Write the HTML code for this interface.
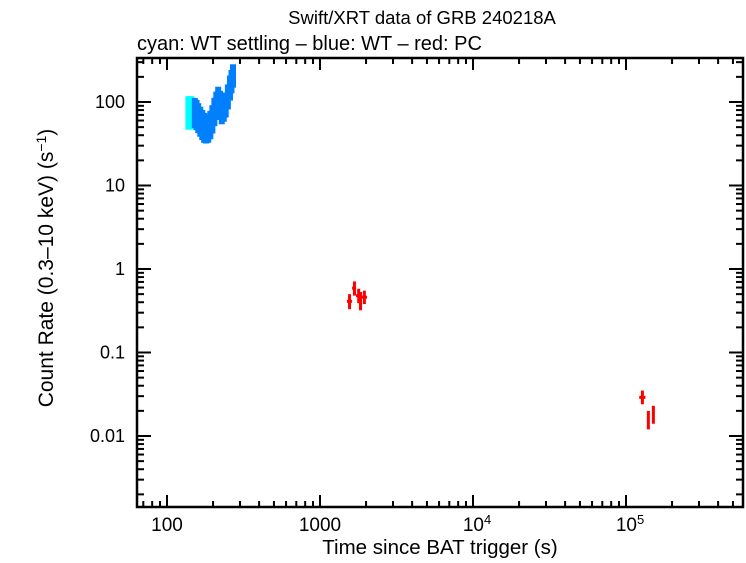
<!DOCTYPE html>
<html><head><meta charset="utf-8"><style>
body{margin:0;background:#fff}
svg text{font-family:"Liberation Sans",sans-serif;fill:#000}
</style></head><body>
<svg id="c" width="746" height="558">
<text x="422" y="24" font-size="18.5" text-anchor="middle">Swift/XRT data of GRB 240218A</text>
<text x="137" y="50" font-size="20">cyan: WT settling – blue: WT – red: PC</text>
<text x="440" y="554" font-size="20.5" text-anchor="middle">Time since BAT trigger (s)</text>
<text transform="translate(53,268) rotate(-90)" font-size="21" text-anchor="middle">Count Rate (0.3–10 keV) (s<tspan dy="-7" font-size="14">−1</tspan><tspan dy="7">)</tspan></text>
<g id="axes"></g><g id="marks"></g>
</svg>
<script>
const xTicks=[2,3,4,5];
const xTickLabels=["100","1000","10","10"];
const xTickSup=["","","4","5"];
const yTicks=[2,1,0,-1,-2];
const yTickLabels=["100","10","1","0.1","0.01"];
const cyanT=[138,141,144];
const cyanR=[74,74,74];
const cyanErr=[0.2,0.2,0.2];
const blueT=[152,156,160,165,170,175,180,186,192,198,204,210,216,222,228,235,242,250,258,264,270];
const blueR=[74,70,64,58,53,49,46,48,53,62,76,90,103,92,80,84,92,115,147,175,205];
const blueErr=[0.18,0.18,0.18,0.18,0.18,0.18,0.16,0.17,0.17,0.17,0.17,0.17,0.17,0.17,0.17,0.16,0.15,0.15,0.15,0.14,0.14];
const pcT=[1560,1680,1790,1840,1950,128000,140000,151000];
const pcR=[0.41,0.59,0.48,0.42,0.46,0.029,0.0156,0.018];
const pcTlo=[1500,1620,1720,1800,1870,122000,138000,149000];
const pcThi=[1620,1720,1800,1870,2030,134000,142000,153000];
const pcRlo=[0.33,0.48,0.39,0.32,0.38,0.024,0.012,0.014];
const pcRhi=[0.50,0.71,0.58,0.53,0.55,0.035,0.020,0.023];
const L=137,R=743,T=58,B=507;
const X=t=>167+(Math.log10(t)-2)*153;
const Y=r=>102-(Math.log10(r)-2)*83.5;
const ns="http://www.w3.org/2000/svg";
const ax=document.getElementById('axes'),mk=document.getElementById('marks');
function el(tag,a,p){const e=document.createElementNS(ns,tag);for(const k in a)e.setAttribute(k,a[k]);p.appendChild(e);return e;}
const fr=el('rect',{x:L,y:T,width:R-L,height:B-T,fill:'none',stroke:'#000','stroke-width':2.5},ax);


for(let d=1;d<=5;d++)for(let m=1;m<10;m++){const x=X(m*Math.pow(10,d));if(x<L||x>R)continue;const len=m==1?12:6;
el('line',{x1:x,x2:x,y1:B,y2:B-len,stroke:'#000','stroke-width':2},ax);el('line',{x1:x,x2:x,y1:T,y2:T+len,stroke:'#000','stroke-width':2},ax);}
xTicks.forEach((d,i)=>{const t=el('text',{x:X(Math.pow(10,d))+(xTickSup[i]?4:0),y:531,'font-size':19,'text-anchor':'middle'},ax);t.textContent=xTickLabels[i];


if(xTickSup[i]){const s=el('tspan',{dy:-7,'font-size':13},t);s.textContent=xTickSup[i];}});
for(let d=-3;d<=2;d++)for(let m=1;m<10;m++){const y=Y(m*Math.pow(10,d));if(y<T||y>B)continue;const len=m==1?14:7;
el('line',{x1:L,x2:L+len,y1:y,y2:y,stroke:'#000','stroke-width':2},ax);el('line',{x1:R,x2:R-len,y1:y,y2:y,stroke:'#000','stroke-width':2},ax);}
yTicks.forEach((d,i)=>{const t=el('text',{x:125,y:Y(Math.pow(10,d))+6,'font-size':18,'text-anchor':'end'},ax);t.textContent=yTickLabels[i];

});
function band(T_,Rr,E,col,name){T_.forEach((t,i)=>{const x=X(t),y1=Y(Rr[i]*Math.pow(10,E[i])),y2=Y(Rr[i]/Math.pow(10,E[i]));
const r=el('rect',{x:x-3,y:y1,width:6,height:y2-y1,fill:col},mk);

});}
band(cyanT,cyanR,cyanErr,'#00ffff','wt-settling-point');
band(blueT,blueR,blueErr,'#0080ff','wt-point');
pcT.forEach((t,i)=>{const g=el('g',{},mk);


el('line',{x1:X(pcTlo[i]),x2:X(pcThi[i]),y1:Y(pcR[i]),y2:Y(pcR[i]),stroke:'#ff0000','stroke-width':3},g);
el('line',{x1:X(t),x2:X(t),y1:Y(pcRhi[i]),y2:Y(pcRlo[i]),stroke:'#ff0000','stroke-width':3},g);});
</script>
</body></html>
